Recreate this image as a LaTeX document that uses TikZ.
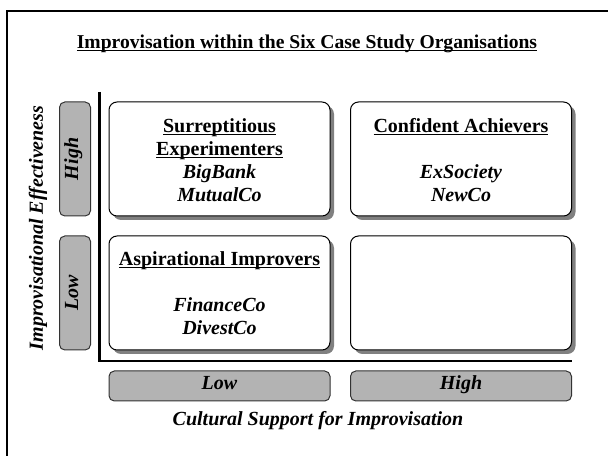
\documentclass[tikz,border=0pt]{standalone}
\usepackage{fontspec}
\setmainfont{Liberation Serif}
\usetikzlibrary{shadows}

\definecolor{barGray}{RGB}{179,179,179}
\definecolor{shadowGray}{RGB}{128,128,128}

% underline at a fixed depth, crossing the descenders
\newcommand{\undl}[1]{\setbox0\hbox{#1}\rlap{\rule[-1.8pt]{\wd0}{0.8pt}}\box0}

\tikzset{every picture/.style={line width=0.75pt}}
\tikzset{
  quadbox/.style={draw, rounded corners=6pt, fill=white, inner sep=0pt,
    minimum width=165.75pt, minimum height=85.5pt,
    drop shadow={shadow xshift=3pt, shadow yshift=-3pt, fill=shadowGray, opacity=1}},
  levelbar/.style={draw=black!80, rounded corners=4pt, fill=barGray, inner sep=0pt,
    text height=0.7em, text depth=0.22em},
  quadtext/.style={anchor=north, align=center, inner sep=0pt,
    font=\fontsize{15}{17.2}\selectfont\bfseries},
  axistext/.style={inner sep=0pt, font=\fontsize{15}{17.4}\selectfont\bfseries\itshape}
}

\begin{document}
\begin{tikzpicture}[x=0.75pt,y=0.75pt,yscale=-1,xscale=1]
\useasboundingbox (0,0) rectangle (608,456);
\clip (0,0) rectangle (608,456);

%Frame (runs off the page to the right and below)
\draw [line width=1pt] (7,11) rectangle (640,490);

% Title
\node [inner sep=0pt, font=\fontsize{14.7}{17.4}\selectfont\bfseries] (title) at (307,44) {\undl{Improvisation within the Six Case Study Organisations}};

%Quadrants
\node [quadbox] (surr) at (219.5,159) {};
\node [quadbox] (conf) at (461,159) {};
\node [quadbox] (aspi) at (219.5,293) {};
\node [quadbox] (empty) at (461,293) {};

% Text Node
\node [quadtext] (surrtxt) at ([yshift=12.5pt]surr.north) {\undl{Surreptitious}\\\undl{Experimenters}\\\itshape BigBank\\\itshape MutualCo};
% Text Node
\node [quadtext] (conftxt) at ([yshift=12.5pt]conf.north) {\undl{Confident Achievers}\\[17.2pt]\itshape ExSociety\\\itshape NewCo};
% Text Node
\node [quadtext] (aspitxt) at ([yshift=11.75pt]aspi.north) {\undl{Aspirational Improvers}\\[17.2pt]\itshape FinanceCo\\\itshape DivestCo};

%Axes
\coordinate (ytop) at (99.5,92);
\coordinate (corner) at (99.5,360.7);
\coordinate (xend) at (572,360.7);
\draw [line width=1.6pt] (ytop) -- (corner) -- (xend);

%Level bars, effectiveness
\node [levelbar, axistext, rotate=90, minimum width=85.5pt, minimum height=23.25pt] (effhigh) at (75,159) {High};
\node [levelbar, axistext, rotate=90, minimum width=85.5pt, minimum height=23.25pt] (efflow) at (75,293) {Low};
%Level bars, cultural support
\node [levelbar, axistext, minimum width=165.75pt, minimum height=22.5pt] (suplow) at (219.5,386) {Low};
\node [levelbar, axistext, minimum width=165.75pt, minimum height=22.5pt] (suphigh) at (461,386) {High};

% Axis titles
\node [axistext, rotate=90] (efftitle) at (38,228) {Improvisational Effectiveness};
\node [axistext] (suptitle) at (318,421) {Cultural Support for Improvisation};

\end{tikzpicture}
\end{document}
